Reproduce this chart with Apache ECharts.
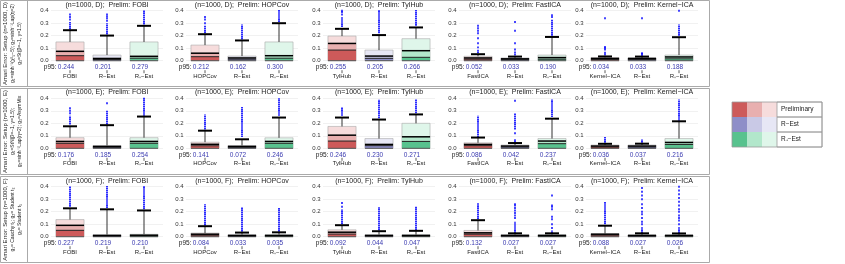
<!DOCTYPE html>
<html><head><meta charset="utf-8">
<script src="https://cdn.jsdelivr.net/npm/echarts@6/dist/echarts.min.js"></script>
<style>html,body{margin:0;padding:0;background:#fff}#c{width:845px;height:264px}</style>
</head><body><div id="c"></div><script>
const setups = ['D', 'E', 'F'];
const prelims = ['FOBI', 'HOPCov', 'TylHub', 'FastICA', 'Kernel−ICA'];
const methods = ['R−Est', 'R₊−Est'];
const yTicks = [0, 0.1, 0.2, 0.3, 0.4];

// box bands per panel: [prelim, R-Est, R+-Est], each [darkTop, midTop, lightTop]
const boxD = [
  [[0.040,0.075,0.150],[0.010,0.018,0.045],[0.020,0.035,0.150]],
  [[0.032,0.060,0.125],[0.012,0.022,0.037],[0.020,0.040,0.150]],
  [[0.085,0.138,0.197],[0.019,0.037,0.085],[0.027,0.080,0.176]],
  [[0.012,0.022,0.035],[0.008,0.015,0.022],[0.012,0.025,0.045]],
  [[0.010,0.018,0.025],[0.010,0.018,0.022],[0.015,0.030,0.045]]
];
const p95D = [[0.244,0.201,0.279],[0.212,0.162,0.300],[0.255,0.205,0.266],[0.052,0.033,0.190],[0.034,0.033,0.188]];
const denseD = [
  [[0.25,0.31],[0.21,0.30],[0.29,0.405]],
  [[0.22,0.28],[0.17,0.29],[0.31,0.405]],
  [[0.27,0.35],[0.22,0.405],[0.28,0.405]],
  [[0.06,0.07],null,[0.20,0.33]],
  [null,null,[0.20,0.29]]
];
const sparseD = [
  [[0.33,0.35,0.37],[0.32,0.34,0.355,0.37],[]],
  [[0.30,0.33,0.35],[],[]],
  [[0.37,0.39,0.40],[],[]],
  [[0.08,0.107,0.14,0.18,0.22,0.24,0.26,0.28],[0.05,0.067,0.09,0.14,0.24,0.31],[0.35,0.365]],
  [[0.05,0.064,0.09,0.10,0.11,0.34],[0.045,0.055,0.06,0.34],[0.40]]
];

const boxE = [
  [[0.040,0.055,0.085],[0.008,0.015,0.022],[0.040,0.055,0.085]],
  [[0.020,0.032,0.049],[0.008,0.015,0.022],[0.040,0.055,0.084]],
  [[0.058,0.105,0.175],[0.021,0.031,0.078],[0.055,0.092,0.200]],
  [[0.021,0.031,0.044],[0.010,0.018,0.026],[0.037,0.058,0.078]],
  [[0.010,0.018,0.026],[0.010,0.018,0.026],[0.031,0.047,0.078]]
];
const p95E = [[0.176,0.185,0.254],[0.141,0.072,0.246],[0.246,0.230,0.271],[0.086,0.042,0.237],[0.036,0.037,0.216]];
const denseE = [
  [[0.19,0.26],[0.19,0.30],[0.26,0.405]],
  [[0.15,0.27],[0.09,0.33],[0.26,0.40]],
  [[0.26,0.33],[0.24,0.39],[0.28,0.39]],
  [[0.09,0.26],[0.15,0.28],[0.25,0.39]],
  [[0.045,0.09],[0.045,0.07],[0.22,0.39]]
];
const sparseE = [
  [[0.28,0.30,0.32],[0.36],[]],
  [[],[],[]],
  [[],[],[]],
  [[],[0.05,0.065,0.12,0.38],[]],
  [[],[],[]]
];

const boxF = [
  [[0.051,0.091,0.137],[0.006,0.010,0.016],[0.007,0.012,0.019]],
  [[0.012,0.020,0.029],[0.006,0.010,0.016],[0.006,0.010,0.016]],
  [[0.021,0.036,0.055],[0.006,0.010,0.016],[0.006,0.010,0.016]],
  [[0.020,0.031,0.050],[0.006,0.010,0.016],[0.006,0.010,0.016]],
  [[0.012,0.020,0.024],[0.006,0.010,0.014],[0.006,0.010,0.014]]
];
const p95F = [[0.227,0.219,0.210],[0.084,0.033,0.035],[0.092,0.044,0.047],[0.132,0.027,0.027],[0.088,0.027,0.026]];
const denseF = [
  [[0.24,0.405],[0.23,0.405],[0.22,0.405]],
  [[0.09,0.26],[0.04,0.235],[0.04,0.23]],
  [[0.10,0.22],[0.05,0.235],[0.05,0.24]],
  [[0.14,0.27],[0.03,0.12],[0.03,0.05]],
  [[0.10,0.28],[0.03,0.08],[0.03,0.08]]
];
const sparseF = [
  [[],[],[]],
  [[],[],[]],
  [[0.24,0.27],[],[]],
  [[],[0.15,0.17,0.19,0.21,0.23,0.25,0.26],[0.07,0.10,0.14,0.16,0.22,0.24,0.25,0.33]],
  [[],[0.10,0.12,0.15,0.18,0.20,0.23,0.26,0.30,0.33,0.36,0.39],[0.10,0.13,0.15,0.17,0.20,0.22,0.25,0.28,0.31,0.34,0.37,0.40]]
];

const rowLabels = [
  ['Amari Error: Setup (n=1000, D)', 'g₁=sinh⁻¹(χ²₅−5); g₂=sinh⁻¹Lap(η=2)', 'g₃=St(β=−1, γ=1.5)'],
  ['Amari Error: Setup (n=1000, E)', 'g₁=StN(β=−1, γ=1.5);', 'g₂=sinh⁻¹Lap(η=2); g₃=AsymMix'],
  ['Amari Error: Setup (n=1000, F)', 'g₁= Cauchy t₁; g₂= Student t₃', 'g₃= Student t₅']
];
const legendLabels = ['Preliminary', 'R−Est', 'R₊−Est'];

const BOX = [boxD, boxE, boxF], P95 = [p95D, p95E, p95F], DENSE = [denseD, denseE, denseF], SPARSE = [sparseD, sparseE, sparseF];
const COLORS = [
  ['#cd5a5a', '#e8afaf', '#f6dcdc'],
  ['#8e8ec8', '#c9c9e6', '#e7e7f5'],
  ['#58c28e', '#b2e7cb', '#dff6ea']
];
const DOT = '#0a0aff';
const FONT = 'Liberation Sans, Arial, sans-serif';
const gridLefts = [51.5, 186.5, 323.5, 459.5, 586.5];
const gridW = 111;
const rowTops = [10.7, 98.3, 186.7];
const gridH = 50;

const grids = [], xAxes = [], yAxes = [], series = [], graphics = [];

function boxRender(params, api) {
  const i = api.value(0);
  const base = api.coord([i, 0]);
  const cx = base[0], y0 = base[1];
  const bw = api.size([1, 0])[0] * 0.76;
  const y1 = api.coord([i, api.value(1)])[1];
  const y2 = api.coord([i, api.value(2)])[1];
  const y3 = api.coord([i, api.value(3)])[1];
  const pv = api.value(4);
  const yp = api.coord([i, pv])[1];
  const col = COLORS[i];
  const x = cx - bw / 2;
  const ch = [];
  const dl = api.value(5), dh = api.value(6);
  if (!isNaN(dl) && dl !== null) {
    const ya = api.coord([i, dl])[1], yb = api.coord([i, dh])[1];
    ch.push({type: 'line', shape: {x1: cx, y1: ya, x2: cx, y2: yb}, style: {stroke: DOT, lineWidth: 1.7, lineDash: [1.6, 0.45]}});
  }
  ch.push(
    {type: 'rect', shape: {x: x, y: y3, width: bw, height: y0 - y3}, style: {fill: col[2], stroke: '#aaaaaa', lineWidth: 0.6}},
    {type: 'rect', shape: {x: x, y: y2, width: bw, height: y1 - y2}, style: {fill: col[1]}},
    {type: 'rect', shape: {x: x, y: y1, width: bw, height: y0 - y1}, style: {fill: col[0]}},
    {type: 'line', shape: {x1: x, y1: y0, x2: x + bw, y2: y0}, style: {stroke: '#555', lineWidth: 1}},
    {type: 'line', shape: {x1: x, y1: y1, x2: x + bw, y2: y1}, style: {stroke: '#222', lineWidth: 1}},
    {type: 'line', shape: {x1: x, y1: y2, x2: x + bw, y2: y2}, style: {stroke: '#000', lineWidth: 1.5}},
    {type: 'line', shape: {x1: cx, y1: y3, x2: cx, y2: yp}, style: {stroke: '#333', lineWidth: 1}},
    {type: 'line', shape: {x1: cx - 7, y1: yp, x2: cx + 7, y2: yp}, style: {stroke: '#000', lineWidth: 2}},
    {type: 'line', shape: {x1: cx, y1: y0 + 9.5, x2: cx, y2: y0 + 12.5}, style: {stroke: '#333', lineWidth: 0.8}},
    {type: 'text', x: cx - 4, y: y0 + 6.5, style: {text: pv.toFixed(3), fill: '#3a3ab0', fontSize: 6.5, fontFamily: FONT, align: 'center', verticalAlign: 'middle'}}
  );
  if (i === 0) {
    ch.push({type: 'text', x: cx - 13.5, y: y0 + 6.5, style: {text: 'p95:', fill: '#222', fontSize: 6.5, fontFamily: FONT, align: 'right', verticalAlign: 'middle'}});
  }
  return {type: 'group', children: ch};
}

let idx = 0;
for (let r = 0; r < 3; r++) {
  for (let p = 0; p < 5; p++) {
    grids.push({left: gridLefts[p], top: rowTops[r], width: gridW, height: gridH});
    xAxes.push({
      type: 'category', gridIndex: idx, data: [prelims[p], methods[0], methods[1]],
      axisLine: {show: false}, axisTick: {show: false},
      axisLabel: {margin: 12.5, fontSize: 6, color: '#222', fontFamily: FONT, interval: 0}
    });
    yAxes.push({
      type: 'value', gridIndex: idx, min: yTicks[0], max: yTicks[yTicks.length - 1], interval: 0.1,
      axisLine: {show: false}, axisTick: {show: false},
      axisLabel: {fontSize: 6, color: '#333', margin: 3, fontFamily: FONT, formatter: v => v.toFixed(1)},
      splitLine: {lineStyle: {color: '#d0d0d0', type: [1, 1], width: 0.6}}
    });
    const data = [];
    for (let k = 0; k < 3; k++) {
      const b = BOX[r][p][k], d = DENSE[r][p][k];
      data.push([k, b[0], b[1], b[2], P95[r][p][k], d ? d[0] : NaN, d ? d[1] : NaN]);
    }
    series.push({type: 'custom', xAxisIndex: idx, yAxisIndex: idx, renderItem: boxRender, data: data, clip: false, z: 3});
    const pts = [];
    for (let k = 0; k < 3; k++) SPARSE[r][p][k].forEach(v => pts.push([k, v]));
    series.push({type: 'scatter', xAxisIndex: idx, yAxisIndex: idx, data: pts, symbol: 'rect', symbolSize: 1.9, clip: false,
      itemStyle: {color: DOT}, z: 2, silent: true});
    graphics.push({type: 'text', x: gridLefts[p] + gridW / 2, y: rowTops[r] - 6,
      style: {text: '(n=1000, ' + setups[r] + ');  Prelim: ' + prelims[p], fontSize: 7, fill: '#222', fontFamily: FONT, align: 'center', verticalAlign: 'middle'}});
    idx++;
  }
  const ry = 0.5 + r * 88;
  graphics.push({type: 'rect', shape: {x: 0.5, y: ry, width: 709, height: 86}, style: {fill: 'none', stroke: '#aaa', lineWidth: 1}});
  graphics.push({type: 'line', shape: {x1: 27.5, y1: ry, x2: 27.5, y2: ry + 86}, style: {stroke: '#aaa', lineWidth: 1}});
  const lx = [5.5, 13, 20];
  rowLabels[r].forEach((t, j) => {
    graphics.push({type: 'text', x: lx[j], y: ry + 43, rotation: Math.PI / 2,
      style: {text: t, fontSize: j === 0 ? 6 : 5, fill: '#222', fontFamily: FONT, align: 'center', verticalAlign: 'middle'}});
  });
}
// legend
for (let m = 0; m < 3; m++) {
  const ly = 102 + m * 15;
  for (let s = 0; s < 3; s++) {
    graphics.push({type: 'rect', shape: {x: 732 + s * 15, y: ly, width: 15, height: 15}, style: {fill: COLORS[m][s]}});
  }
  graphics.push({type: 'rect', shape: {x: 777, y: ly, width: 45, height: 15}, style: {fill: 'none', stroke: '#999', lineWidth: 0.8}});
  graphics.push({type: 'text', x: 781, y: ly + 7.5, style: {text: legendLabels[m], fontSize: 6.5, fill: '#222', fontFamily: FONT, verticalAlign: 'middle'}});
}
graphics.push({type: 'rect', shape: {x: 732, y: 102, width: 90, height: 45}, style: {fill: 'none', stroke: '#999', lineWidth: 0.8}});

const chart = echarts.init(document.getElementById('c'), null, {renderer: 'canvas'});
chart.setOption({
  animation: false, backgroundColor: '#fff',
  grid: grids, xAxis: xAxes, yAxis: yAxes, series: series, graphic: graphics
});
</script></body></html>
